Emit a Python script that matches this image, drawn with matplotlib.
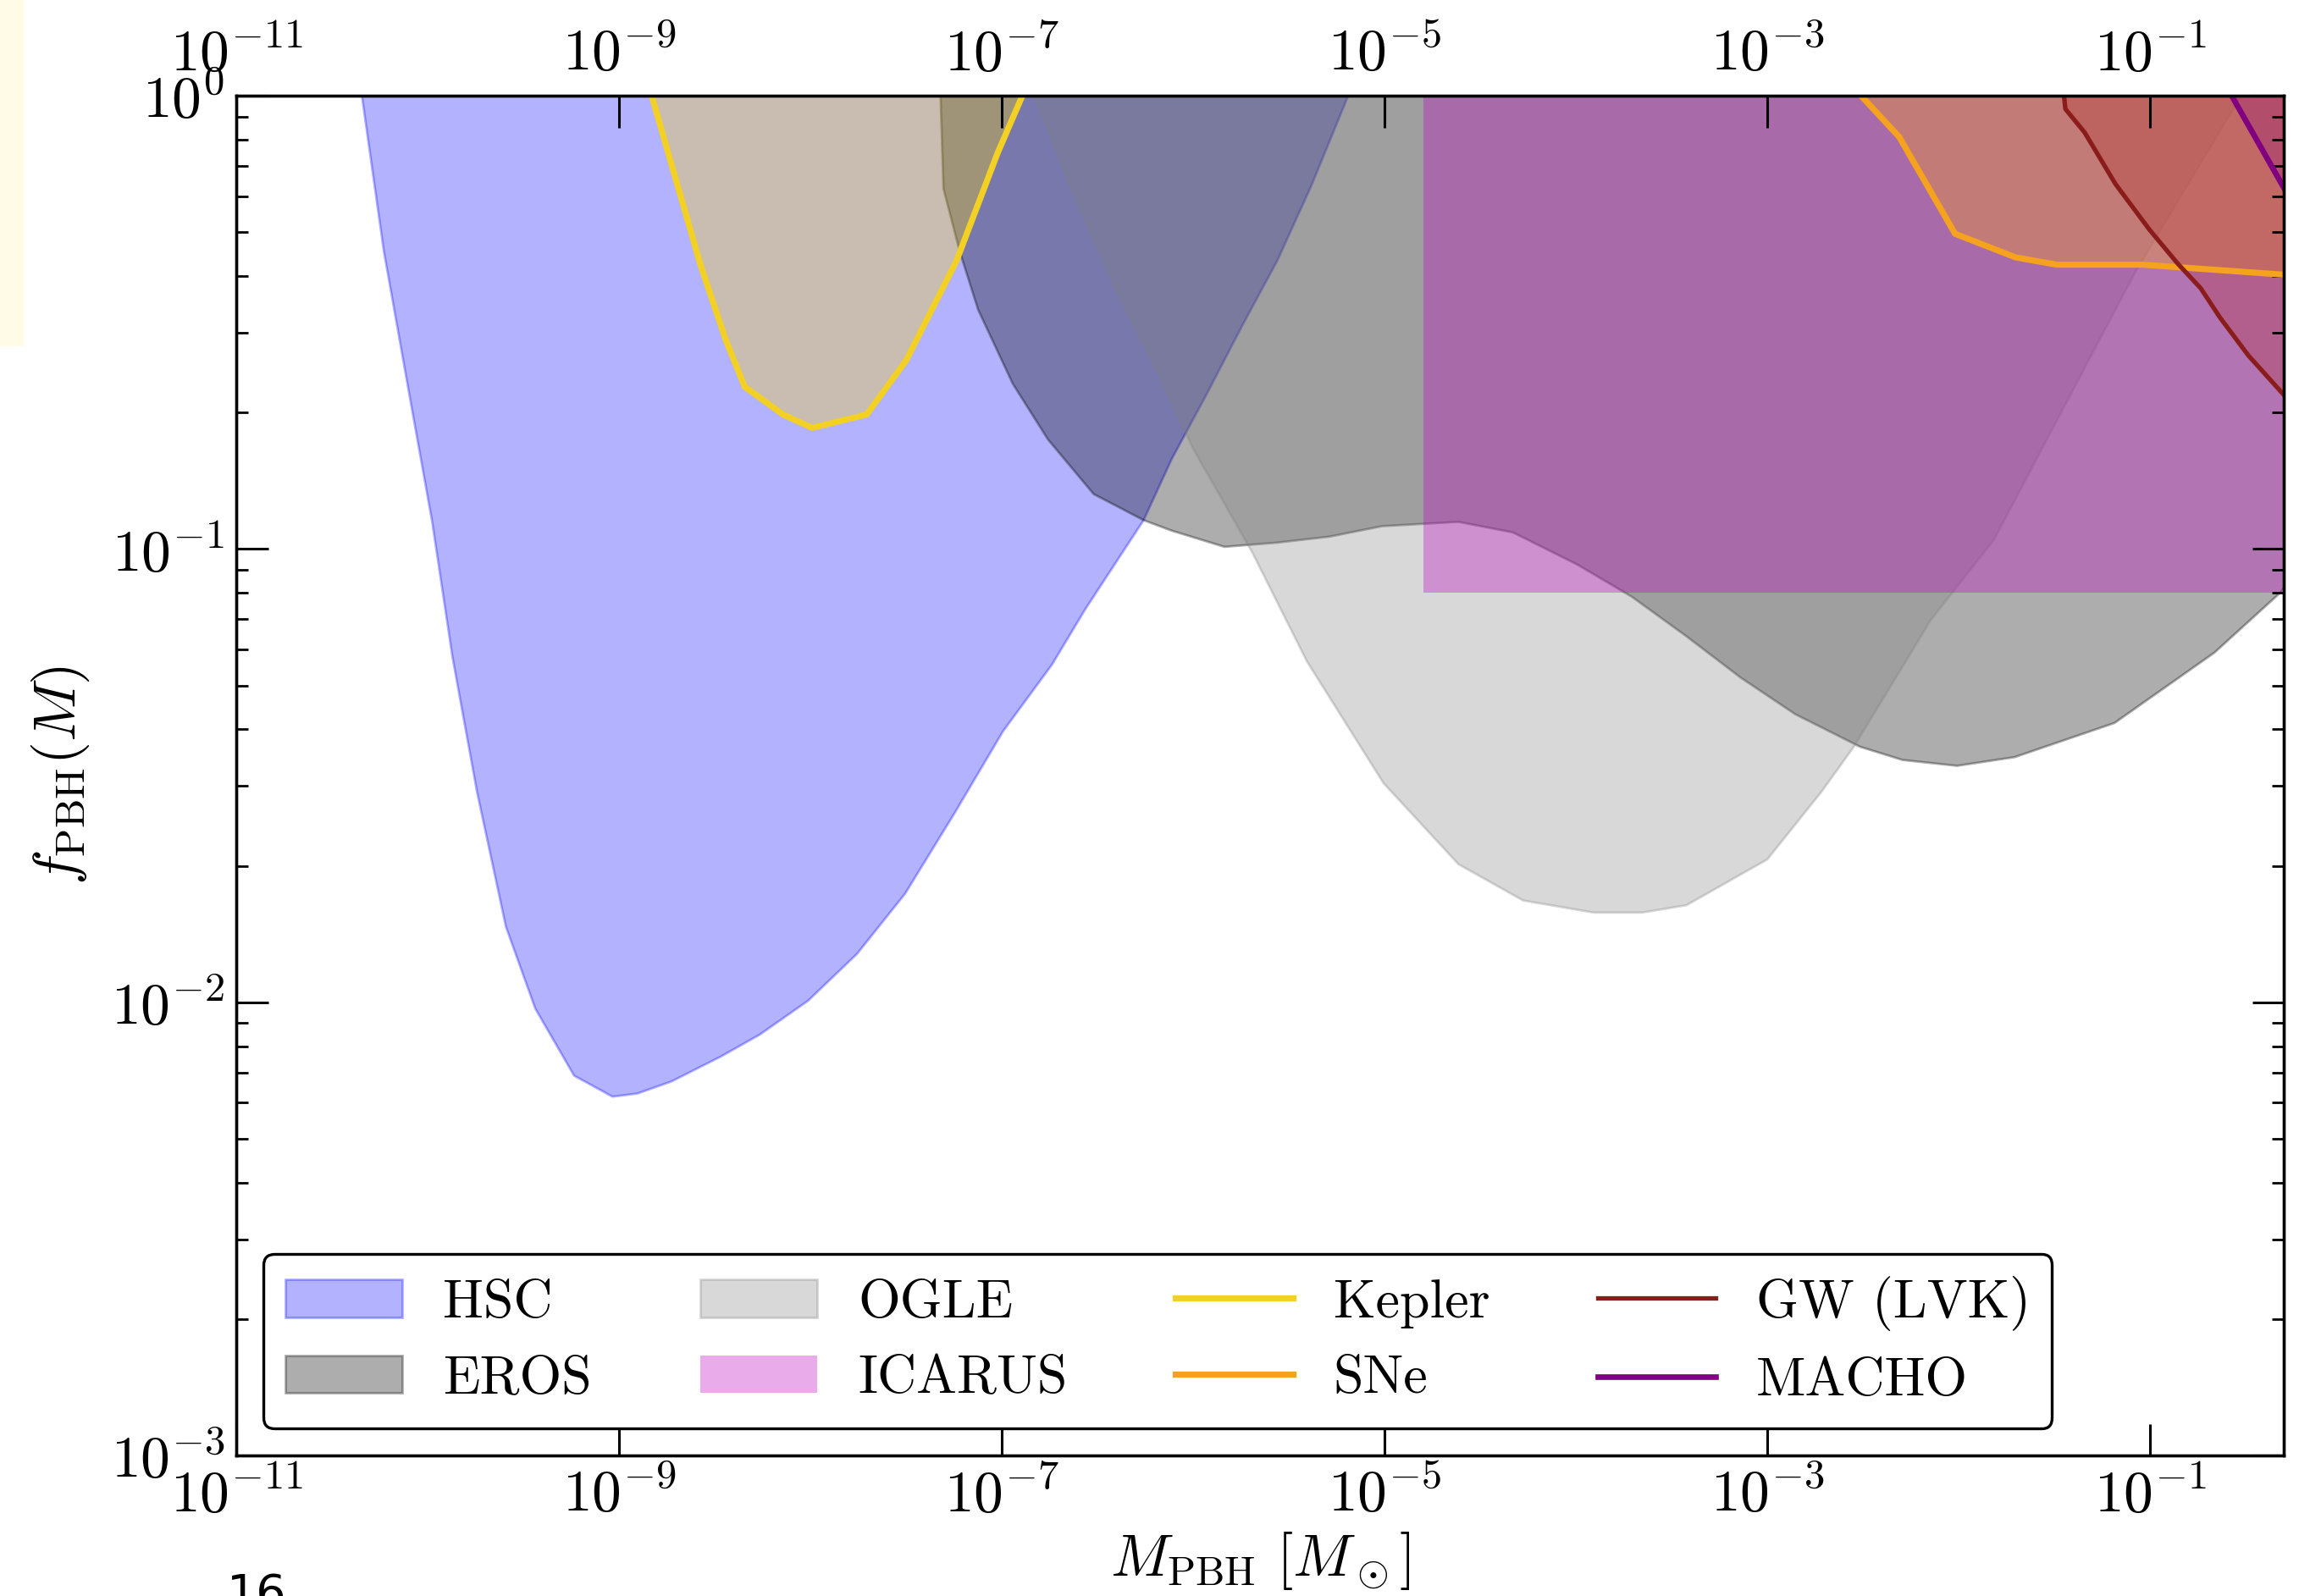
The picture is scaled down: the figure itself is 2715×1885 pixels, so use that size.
import matplotlib
matplotlib.use("Agg")
import matplotlib.pyplot as plt
from matplotlib.ticker import NullLocator
from matplotlib.patches import Rectangle

plt.rcParams.update({
    "font.family": "serif",
    "font.serif": ["cmr10"],
    "mathtext.fontset": "cm",
    "axes.formatter.use_mathtext": True,
    "font.size": 25,
})

# ===== constraint curves (M in solar masses) =====
hsc_m = [4.51e-11, 5.87e-11, 7.85e-11, 1.05e-10, 1.34e-10, 1.80e-10, 2.55e-10,
         3.63e-10, 5.79e-10, 9.20e-10, 1.24e-9, 1.87e-9, 3.38e-9, 5.41e-9,
         9.68e-9, 1.74e-8, 3.11e-8, 5.64e-8, 1.01e-7, 1.82e-7, 2.70e-7,
         5.48e-7, 7.67e-7, 1.17e-6, 1.79e-6, 2.74e-6, 4.12e-6, 6.41e-6]
hsc_f = [1.0, 0.455, 0.228, 0.115, 0.0579, 0.0292, 0.0147,
         0.0097, 0.0069, 0.0062, 0.0063, 0.0067, 0.0076, 0.0085,
         0.0101, 0.0128, 0.0174, 0.0262, 0.0397, 0.0557, 0.0735,
         0.116, 0.158, 0.220, 0.311, 0.434, 0.634, 1.0]

eros_m = [4.76e-8, 4.93e-8, 6.00e-8, 7.48e-8, 1.135e-7, 1.73e-7, 3.00e-7,
          5.48e-7, 7.67e-7, 1.45e-6, 2.74e-6, 5.14e-6, 9.64e-6, 2.42e-5,
          4.66e-5, 1.01e-4, 1.95e-4, 3.76e-4, 7.23e-4, 1.39e-3, 3.03e-3,
          5.07e-3, 9.75e-3, 1.95e-2, 6.49e-2, 0.216, 0.479, 1.0]
eros_f = [1.0, 0.625, 0.454, 0.338, 0.232, 0.175, 0.1325,
          0.116, 0.110, 0.1013, 0.1035, 0.1067, 0.1125, 0.115,
          0.109, 0.0926, 0.0786, 0.0643, 0.0521, 0.0433, 0.0367,
          0.0343, 0.0333, 0.0348, 0.0414, 0.0592, 0.0804, 0.125]

ogle_m = [1.48e-7, 2.30e-7, 3.92e-7, 6.55e-7, 1.00e-6, 2.03e-6, 3.91e-6,
          9.82e-6, 2.42e-5, 5.27e-5, 1.23e-4, 2.21e-4, 3.76e-4, 9.95e-4,
          1.91e-3, 2.82e-3, 7.10e-3, 1.52e-2, 3.55e-2, 8.30e-2, 0.297]
ogle_f = [1.0, 0.625, 0.376, 0.244, 0.166, 0.0983, 0.0566,
          0.0305, 0.0202, 0.0168, 0.0158, 0.0158, 0.0164, 0.0207,
          0.0292, 0.0367, 0.0698, 0.105, 0.207, 0.408, 1.0]

icarus_m = [1.6e-5, 1.0]
icarus_f = [0.08, 0.08]

kepler_m = [1.48e-9, 1.87e-9, 2.66e-9, 3.60e-9, 4.53e-9, 7.18e-9, 1.02e-8,
            1.97e-8, 3.17e-8, 5.78e-8, 9.51e-8, 1.28e-7]
kepler_f = [1.0, 0.710, 0.424, 0.290, 0.228, 0.198, 0.185,
            0.198, 0.261, 0.431, 0.748, 1.0]

sne_m = [3.09e-3, 4.89e-3, 9.57e-3, 1.98e-2, 3.25e-2, 9.08e-2, 0.497, 1.0]
sne_f = [1.0, 0.811, 0.496, 0.440, 0.424, 0.424, 0.403, 0.39]

gw_m = [3.55e-2, 3.61e-2, 4.55e-2, 6.59e-2, 9.91e-2, 0.139, 0.184, 0.232, 0.327, 0.506]
gw_f = [1.0, 0.935, 0.830, 0.639, 0.507, 0.427, 0.376, 0.324, 0.267, 0.2176]

macho_m = [0.267, 0.506]
macho_f = [1.0, 0.621]

xticks = [1e-11, 1e-9, 1e-7, 1e-5, 1e-3, 1e-1]

# ===== figure =====
fig = plt.figure(figsize=(13.575, 9.425), dpi=200)
ax = fig.add_axes([0.1028, 0.0881, 0.8906, 0.8519])

h_hsc = ax.fill_between(hsc_m, hsc_f, 1, color="blue", alpha=0.3, label="HSC")
h_eros = ax.fill_between(eros_m, eros_f, 1, color="k", alpha=0.32, label="EROS")
h_ogle = ax.fill_between(ogle_m, ogle_f, 1, color="gray", alpha=0.3, label="OGLE")
h_icarus = ax.fill_between(icarus_m, icarus_f, 1, color="m", alpha=0.33,
                           lw=0, label="ICARUS")
ax.fill_between(kepler_m, kepler_f, 1, color="gold", alpha=0.3, lw=0)
ax.fill_between(sne_m, sne_f, 1, color="orange", alpha=0.3, lw=0)
ax.fill_between(gw_m, gw_f, 1, color="firebrick", alpha=0.25, lw=0)
ax.fill_between(macho_m, macho_f, 1, color="purple", alpha=0.25, lw=0)

l_kep, = ax.plot(kepler_m, kepler_f, color="#f2d024", lw=2.6, label="Kepler")
l_sne, = ax.plot(sne_m, sne_f, color="#f5a21e", lw=2.6, label="SNe")
l_gw, = ax.plot(gw_m, gw_f, color="#8b1c1c", lw=1.9, label="GW (LVK)")
l_macho, = ax.plot(macho_m, macho_f, color="purple", lw=2.4, label="MACHO")

ax.set_xscale("log")
ax.set_yscale("log")
ax.set_xlim(1e-11, 0.5)
ax.set_ylim(1e-3, 1)
ax.set_xticks(xticks)
ax.xaxis.set_minor_locator(NullLocator())

ax.tick_params(which="both", direction="in", right=True, top=False)
ax.tick_params(which="major", length=13.5, width=1.1, pad=5)
ax.tick_params(which="minor", length=5, width=1.0)

# top axis carries the same mass labels
axt = ax.twiny()
axt.set_xscale("log")
axt.set_xlim(ax.get_xlim())
axt.set_xticks(xticks)
axt.xaxis.set_minor_locator(NullLocator())
axt.tick_params(axis="x", direction="in", length=13.5, width=1.1, pad=6)

for a in (ax, axt):
    for s in a.spines.values():
        s.set_linewidth(1.2)

ax.set_xlabel(r"$M_{\rm PBH}\ [M_\odot]$", labelpad=3)
ax.set_ylabel(r"$f_{\rm PBH}(M)$", labelpad=8)

leg = ax.legend(handles=[h_hsc, h_eros, h_ogle, h_icarus, l_kep, l_sne, l_gw, l_macho],
                ncol=4, loc="lower left", fancybox=True, framealpha=1,
                edgecolor="k", fontsize=23, handlelength=2.17,
                handletextpad=0.75, columnspacing=2.0)
leg.get_frame().set_linewidth(1.2)
leg.set_zorder(10)

# scan remnants from the page
fig.patches.append(Rectangle((0, 1 - 407 / 1885), 26 / 2715, 407 / 1885,
                             transform=fig.transFigure, color="#fffbe6", zorder=0))
fig.text(268 / 2715, 28 / 1885, "16", va="top", ha="left", fontsize=20,
         family="DejaVu Sans")

fig.savefig("out.png", dpi=200)
